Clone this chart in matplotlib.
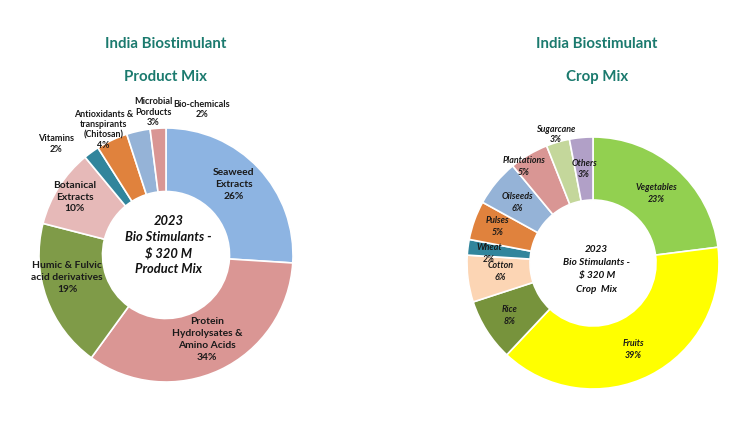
import matplotlib.pyplot as plt
import numpy as np

plt.rcParams['font.family'] = ['Lato', 'DejaVu Sans']

# product mix
prod_labels = ["Seaweed\nExtracts", "Protein\nHydrolysates &\nAmino Acids",
               "Humic & Fulvic\nacid derivatives", "Botanical\nExtracts",
               "Vitamins", "Antioxidants &\ntranspirants\n(Chitosan)",
               "Microbial\nPorducts", "Bio-chemicals"]
prod_share = [26, 34, 19, 10, 2, 4, 3, 2]
prod_colors = ["#8DB4E2", "#DA9694", "#7F9B48", "#E6B9B8", "#31859C",
               "#E0823D", "#95B3D7", "#D99694"]

# crop mix
crop_labels = ["Vegetables", "Fruits", "Rice", "Cotton", "Wheat", "Pulses",
               "Oilseeds", "Plantations", "Sugarcane", "Others"]
crop_share = [23, 39, 8, 6, 2, 5, 6, 5, 3, 3]
crop_colors = ["#92D050", "#FFFF00", "#77933C", "#FCD5B4", "#31859C",
               "#E0823D", "#95B3D7", "#D99694", "#C4D79B", "#B1A0C7"]

W, H = 753, 423
fig = plt.figure(figsize=(W / 100, H / 100), dpi=100)
teal = "#1B7A6E"
PAD = 1.3


def make_ax(cx, cy, r):
    R = r * PAD
    ax = fig.add_axes([(cx - R) / W, (H - cy - R) / H, 2 * R / W, 2 * R / H])
    return ax


def donut(ax, share, colors):
    wedges, _ = ax.pie(share, colors=colors, startangle=90, counterclock=False,
                       radius=1, wedgeprops=dict(width=0.5, edgecolor="white", linewidth=1.2))
    ax.set_xlim(-PAD, PAD)
    ax.set_ylim(-PAD, PAD)
    ax.set_aspect("equal")
    ax.axis("off")
    return wedges


def place(ax, wedges, labels, share, rad, dang, style, sizes):
    for w, lab, s, rr, da, fs in zip(wedges, labels, share, rad, dang, sizes):
        ang = np.deg2rad((w.theta1 + w.theta2) / 2 + da)
        ls = 1.4 if rr < 1 else 1.2
        ax.text(rr * np.cos(ang), rr * np.sin(ang), f"{lab}\n{s}%", ha="center", va="center",
                fontsize=fs, fontweight="bold", fontstyle=style, color="#1a1a1a",
                linespacing=ls)


# left
ax1 = make_ax(166, 255, 127)
w1 = donut(ax1, prod_share, prod_colors)
place(ax1, w1, prod_labels, prod_share,
      [0.77, 0.74, 0.8, 0.85, 1.23, 1.10, 1.13, 1.18],
      [3, 0.6, -7, 0, 8.7, 1.5, -7.4, -17.5], "normal",
      [7.4, 7.4, 7.4, 7.4, 6.6, 6.4, 6.6, 6.6])
ax1.text(0.02, 0.08, "2023\nBio Stimulants -\n$ 320 M\nProduct Mix", ha="center", va="center",
         fontsize=9.3, fontweight="bold", fontstyle="italic", color="#111111", linespacing=1.37)

# right
ax2 = make_ax(593, 263, 126)
w2 = donut(ax2, crop_share, crop_colors)
place(ax2, w2, crop_labels, crop_share,
      [0.75, 0.76, 0.78, 0.74, 0.83, 0.81, 0.77, 0.94, 1.06, 0.75],
      [-1, -2, 0, -2, 2, -1, 1, 5, 0, 0], "italic", [6.4] * 10)
ax2.text(0.03, -0.05, "2023\nBio Stimulants -\n$ 320 M\nCrop  Mix", ha="center", va="center",
         fontsize=7.2, fontweight="bold", fontstyle="italic", color="#111111", linespacing=1.6)

# titles
for x, sub in [(166, "Product Mix"), (597, "Crop Mix")]:
    fig.text(x / W, 1 - 44 / H, "India Biostimulant", ha="center", va="center",
             fontsize=10.8, fontweight="bold", color=teal)
    fig.text(x / W, 1 - 77 / H, sub, ha="center", va="center",
             fontsize=10.8, fontweight="bold", color=teal)

fig.savefig("out.png", dpi=100, facecolor="white")
